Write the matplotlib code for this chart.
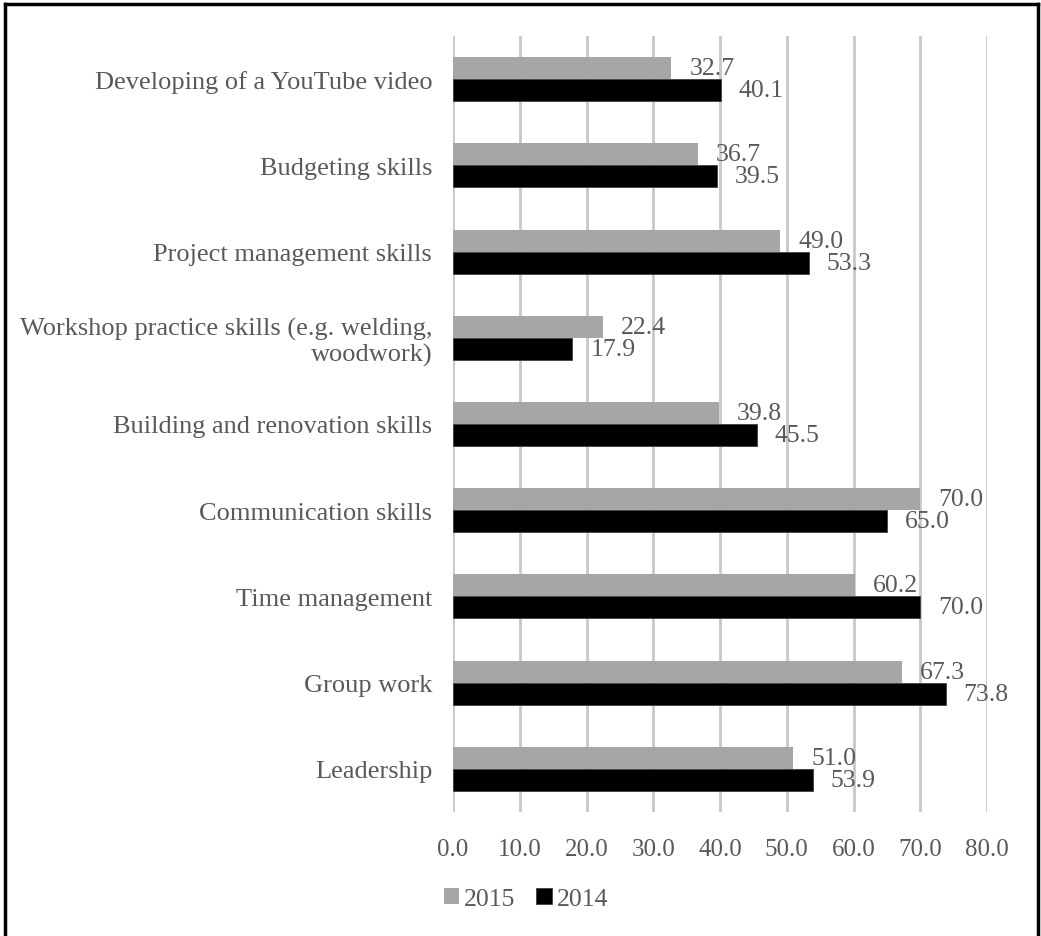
import matplotlib
matplotlib.use("Agg")
import matplotlib.pyplot as plt
from matplotlib.lines import Line2D
import numpy as np

categories = [
    "Developing of a YouTube video",
    "Budgeting skills",
    "Project management skills",
    "Workshop practice skills (e.g. welding,\nwoodwork)",
    "Building and renovation skills",
    "Communication skills",
    "Time management",
    "Group work",
    "Leadership",
]
values_2015 = [32.7, 36.7, 49.0, 22.4, 39.8, 70.0, 60.2, 67.3, 51.0]
values_2014 = [40.1, 39.5, 53.3, 17.9, 45.5, 65.0, 70.0, 73.8, 53.9]
xticks = [0, 10, 20, 30, 40, 50, 60, 70, 80]

plt.rcParams['font.family'] = ['Liberation Serif', 'DejaVu Serif']
txt = '#595959'

fig = plt.figure(figsize=(10.41, 9.37), dpi=100)
ax = fig.add_axes([453/1041, 1-813/937, (987-453)/1041, (813-37)/937])

y = np.arange(len(categories))
h = 0.255
b1 = ax.barh(y - h/2, values_2015, height=h, color='#a6a6a6', label='2015', zorder=3)
b2 = ax.barh(y + h/2, values_2014, height=h, color='#000000', edgecolor='#404040', linewidth=0.6, label='2014', zorder=3)

ax.bar_label(b1, labels=[f"{v:.1f}" for v in values_2015], padding=13, fontsize=18.5, color=txt)
ax.bar_label(b2, labels=[f"{v:.1f}" for v in values_2014], padding=13, fontsize=18.5, color=txt)

ax.set_ylim(len(categories) - 0.5, -0.5)
ax.set_xlim(0, 80)
ax.set_xticks(xticks)
ax.set_xticklabels([f"{t:.1f}" for t in xticks], fontsize=18, color=txt)
ax.set_yticks(y)
ax.set_yticklabels(categories, fontsize=19, color=txt, ha='right', multialignment='right',
                   linespacing=1.15)
ax.tick_params(axis='both', length=0)
ax.tick_params(axis='x', pad=19)
ax.tick_params(axis='y', pad=15)
for s in ax.spines.values():
    s.set_visible(False)
ax.grid(axis='x', color='#c8c8c8', linewidth=2, zorder=0)
ax.set_axisbelow(True)

leg = fig.legend(handles=[b1, b2], labels=['2015', '2014'], loc='center',
                 bbox_to_anchor=(526/1041, 1-900/937), ncol=2, frameon=False,
                 fontsize=18.5, handlelength=0.6, handleheight=0.6, handletextpad=0.2,
                 columnspacing=0.8, labelcolor=txt)

# outer frame (left, top, right)
for xs, ys in [([5/1041, 5/1041], [0, 1-5/937]),
               ([5/1041, 1038/1041], [1-5/937, 1-5/937]),
               ([1038/1041, 1038/1041], [0, 1-5/937])]:
    fig.add_artist(Line2D(xs, ys, transform=fig.transFigure, color='black', linewidth=2.5))

fig.savefig('out.png', dpi=100)
